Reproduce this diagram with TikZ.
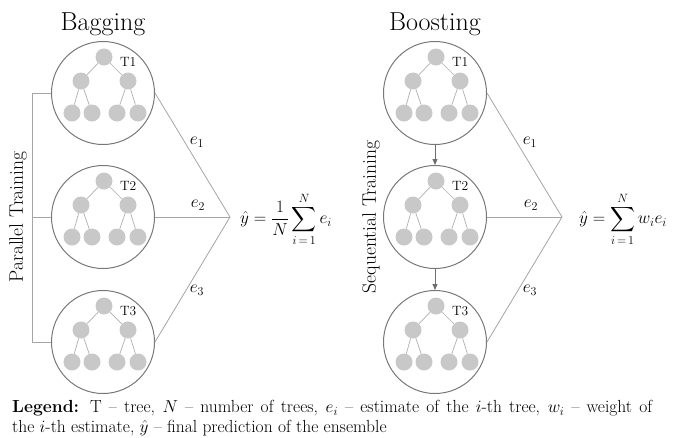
\documentclass[tikz,border=0pt]{standalone}
\usepackage{amsmath}
\usetikzlibrary{arrows.meta}
\definecolor{circ}{RGB}{120,120,120}
\definecolor{leaf}{RGB}{200,200,200}
\definecolor{edgec}{RGB}{175,175,175}
\definecolor{linkc}{RGB}{165,165,165}
\definecolor{arr}{RGB}{110,110,110}
\newcommand\mytree[4]{%
  \node[treecirc] (#1) at (#2,#3) {};
  \begin{scope}[shift={(#2,#3)}]
    \node[tn] (#1r) at (1,-36) {};
    \node[tn] (#1a) at (-22,-12) {};
    \node[tn] (#1b) at (25,-12) {};
    \node[tn] (#1c) at (-31,20) {};
    \node[tn] (#1d) at (-11,20) {};
    \node[tn] (#1e) at (14,20) {};
    \node[tn] (#1f) at (35,20) {};
    \node[tlabel] (#1l) at (17,-31) {#4};
  \end{scope}
  \draw[tedge] (#1r) -- (#1a);
  \draw[tedge] (#1r) -- (#1b);
  \draw[tedge] (#1a) -- (#1c);
  \draw[tedge] (#1a) -- (#1d);
  \draw[tedge] (#1b) -- (#1e);
  \draw[tedge] (#1b) -- (#1f);
}
\begin{document}
\begin{tikzpicture}[x=1pt,y=-1pt,
  treecirc/.style={circle,draw=circ,line width=1pt,minimum size=103pt,inner sep=0pt},
  tn/.style={circle,fill=leaf,minimum size=17pt,inner sep=0pt},
  tedge/.style={draw=edgec,line width=0.7pt},
  tlabel/.style={anchor=west,inner sep=0pt,font=\fontsize{13.5}{15}\selectfont},
  link/.style={draw=linkc,line width=0.8pt},
  brk/.style={draw=linkc,line width=0.9pt},
  seqarrow/.style={draw=arr,line width=0.9pt,-{Triangle[length=6pt,width=5pt]}},
  title/.style={font=\fontsize{26}{29}\selectfont,inner sep=0pt},
  side/.style={font=\fontsize{19.5}{21}\selectfont,rotate=90,inner sep=0pt},
  elabel/.style={font=\fontsize{17}{19}\selectfont,inner sep=0pt},
  formula/.style={font=\fontsize{18}{20}\selectfont,anchor=west,inner sep=0pt},
  legend/.style={font=\fontsize{17.5}{20}\selectfont,anchor=north west,inner sep=0pt,align=left}
]
\useasboundingbox (0,0) rectangle (683,437);

% Bagging
\node[title] (bagt) at (103,24) {Bagging};
\mytree{A1}{103}{93}{T1}
\mytree{A2}{103}{217}{T2}
\mytree{A3}{103}{342}{T3}
\coordinate (bk1) at (32,93);
\coordinate (bk3) at (32,342);
\coordinate (bk2) at (32,217);
\draw[brk] (A1.west) -- (bk1) -- (bk3) -- (A3.west);
\draw[brk] (bk2) -- (A2.west);
\node[side] (par) at (18,217) {Parallel Training};
\coordinate (bagp) at (230,217);
\draw[link] (A1.east) -- (bagp);
\draw[link] (A2.east) -- (bagp);
\draw[link] (A3.east) -- (bagp);
\node[elabel] (be1) at (197,142) {$e_1$};
\node[elabel] (be2) at (198,205) {$e_2$};
\node[elabel] (be3) at (197,290) {$e_3$};
\node[formula] (bagf) at (240,219) {$\displaystyle \hat{y} = \frac{1}{N}\sum_{i\,=\,1}^{N} e_i$};

% Boosting
\node[title] (boot) at (435,24) {Boosting};
\mytree{B1}{435}{93}{T1}
\mytree{B2}{435}{217}{T2}
\mytree{B3}{435}{342}{T3}
\draw[seqarrow] (B1.south) -- (B2.north);
\draw[seqarrow] (B2.south) -- (B3.north);
\node[side] (seq) at (371,217) {Sequential Training};
\coordinate (boop) at (562,217);
\draw[link] (B1.east) -- (boop);
\draw[link] (B2.east) -- (boop);
\draw[link] (B3.east) -- (boop);
\node[elabel] (oe1) at (530,142) {$e_1$};
\node[elabel] (oe2) at (531,205) {$e_2$};
\node[elabel] (oe3) at (530,290) {$e_3$};
\node[formula] (boof) at (579,219) {$\displaystyle \hat{y} = \sum_{i\,=\,1}^{N} w_i e_i$};

% Legend
\node[legend] (leg) at (12,400) {\makebox[640pt][s]{\textbf{Legend:} T -- tree, $N$ -- number of trees, $e_i$ -- estimate of the $i$-th tree, $w_i$ -- weight of}\\ the $i$-th estimate, $\hat{y}$ -- final prediction of the ensemble};
\end{tikzpicture}
\end{document}
